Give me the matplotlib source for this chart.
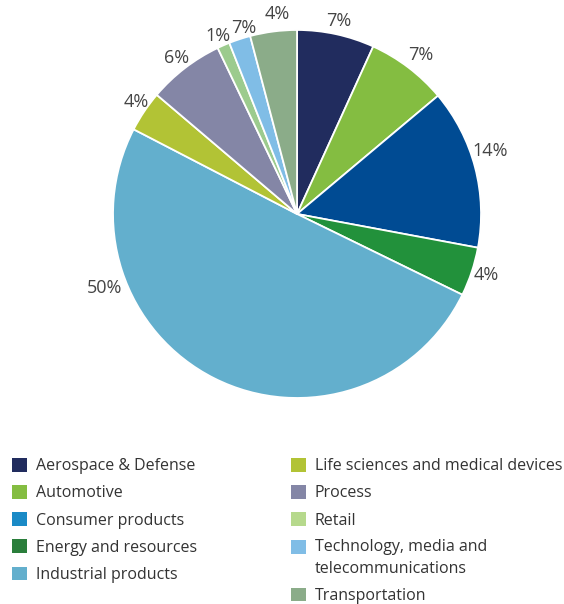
import matplotlib.pyplot as plt
from matplotlib.patches import Patch

plt.rcParams['font.family'] = ['Open Sans', 'DejaVu Sans']

# Industry shares (the printed labels are kept as shown)
sectors = ["Aerospace & Defense", "Automotive", "Consumer products",
           "Energy and resources", "Industrial products",
           "Life sciences and medical devices", "Process", "Retail",
           "Technology, media and\ntelecommunications", "Transportation"]
shares = [6.8, 7.1, 14.05, 4.3, 50.4, 3.6, 6.7, 1.1, 1.9, 4.1]
pct_labels = ["7%", "7%", "14%", "4%", "50%", "4%", "6%", "1%", "7%", "4%"]

slice_colors = ["#212c5e", "#84bd41", "#004b93", "#22913b", "#63afcd",
                "#b2c335", "#8486a6", "#9ccb8e", "#80bde6", "#8bac89"]
legend_colors = ["#212c5e", "#84bd41", "#1a8ac6", "#2a7e3b", "#63afcd",
                 "#b2c335", "#8486a6", "#b6d98c", "#80bde6", "#8bac89"]

# where each percentage label sits, in pie radii from the centre
label_pos = [(0.228, 1.046), (0.674, 0.864), (1.049, 0.340), (1.027, -0.332),
             (-1.049, -0.402), (-0.875, 0.609), (-0.652, 0.848),
             (-0.429, 0.967), (-0.288, 1.011), (-0.109, 1.087)]

fig = plt.figure(figsize=(5.64, 6.04), dpi=100)
ax = fig.add_axes([0.2004, 0.3411, 0.6525, 0.6093])

wedges, texts = ax.pie(shares, labels=pct_labels, colors=slice_colors,
                       startangle=90, counterclock=False,
                       wedgeprops=dict(edgecolor="white", linewidth=1.3),
                       textprops=dict(fontsize=13, color="#444444"))
for t, (x, y) in zip(texts, label_pos):
    t.set_position((x, y))
    t.set_ha("center")
    t.set_va("center")
ax.set_xlim(-1, 1)
ax.set_ylim(-1, 1)
ax.set_aspect("equal")

handles = [Patch(facecolor=c, edgecolor="none") for c in legend_colors]
common = dict(frameon=False, fontsize=11.5, handlelength=0.94, handleheight=0.94,
              handletextpad=0.55, labelspacing=0.68, borderpad=0,
              borderaxespad=0, labelcolor="#333333")
leg1 = fig.legend(handles[:5], sectors[:5], loc="upper left",
                  bbox_to_anchor=(0.021, 0.242), **common)
leg2 = fig.legend(handles[5:], sectors[5:], loc="upper left",
                  bbox_to_anchor=(0.516, 0.242), **common)

# put the swatch of the two-line entry next to its first line
ls = 1.45
leg2.get_texts()[3].set_linespacing(ls)
sw = leg2.legend_handles[3]
sw.set_y(sw.get_y() + 0.5 * ls * 11.5)

fig.savefig("out.png", dpi=100)
